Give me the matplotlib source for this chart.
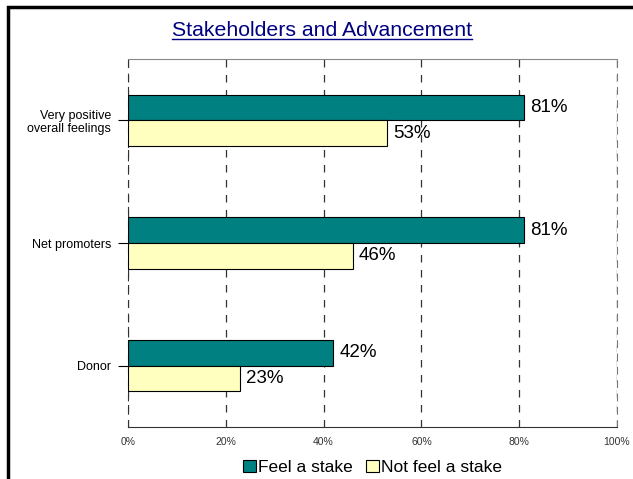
import matplotlib
matplotlib.use("Agg")
import matplotlib.pyplot as plt
from matplotlib.lines import Line2D
import numpy as np

plt.rcParams['font.family'] = ['Liberation Sans', 'DejaVu Sans']

categories = ["Very positive\noverall feelings", "Net promoters", "Donor"]
feel_stake = [81, 81, 42]
not_feel_stake = [53, 46, 23]
series_names = ["Feel a stake", "Not feel a stake"]
x_ticks = [0, 20, 40, 60, 80, 100]

fig = plt.figure(figsize=(6.33, 4.79), dpi=100)
ax = fig.add_axes([0.2022, 0.1086, 0.7725, 0.768])

y = np.arange(len(categories))
h = 0.21
ax.barh(y - h / 2, feel_stake, height=h, color="#008080", edgecolor="black",
        linewidth=0.8, label=series_names[0], zorder=3)
ax.barh(y + h / 2, not_feel_stake, height=h, color="#FFFFC0", edgecolor="black",
        linewidth=0.8, label=series_names[1], zorder=3)

for yi, v in zip(y, feel_stake):
    ax.text(v + 1.2, yi - h / 2, f"{v}%", va="center", ha="left", fontsize=13.5, zorder=4)
for yi, v in zip(y, not_feel_stake):
    ax.text(v + 1.2, yi + h / 2, f"{v}%", va="center", ha="left", fontsize=13.5, zorder=4)

ax.set_xlim(0, 100)
ax.set_ylim(2.5, -0.5)
ax.set_xticks(x_ticks)
ax.set_xticklabels([f"{t}%" for t in x_ticks], fontsize=7.5, color="#333333")
ax.tick_params(axis="x", length=0, pad=7)
ax.set_yticks(y)
ax.set_yticklabels(categories, fontsize=9, linespacing=1.1)
ax.tick_params(axis="y", length=7, width=0.8, pad=5)
for t in ax.get_yticklabels():
    t.set_horizontalalignment("right")
    t.set_multialignment("right")

ax.grid(axis="x", color="#333333", linestyle=(0, (6, 6)), linewidth=0.9, zorder=0)
ax.spines["top"].set_color("#888888")
ax.spines["right"].set_color("#777777")
ax.spines["right"].set_linestyle((0, (6, 6)))
ax.spines["left"].set_color("#333333")
ax.spines["left"].set_linestyle((0, (6, 6)))
ax.spines["bottom"].set_color("#333333")

leg = ax.legend(loc="upper center", bbox_to_anchor=(0.5, -0.07), ncol=2, frameon=False,
                fontsize=12.5, handlelength=0.75, handleheight=0.75, handletextpad=0.1,
                columnspacing=0.8, borderaxespad=0)

title = fig.text(0.508, 0.937, "Stakeholders and Advancement", ha="center", va="center",
                 fontsize=15.3, color="#000080")

# underline under the title
fig.canvas.draw()
bb = title.get_window_extent().transformed(fig.transFigure.inverted())
fig.add_artist(Line2D([bb.x0, bb.x1], [bb.y0 + 0.002, bb.y0 + 0.002],
                      transform=fig.transFigure, color="#000080", linewidth=1.0))

# thick frame on the left and top edges
fig.add_artist(Line2D([0.012, 0.012, 1.0], [0.0, 0.985, 0.985],
                      transform=fig.transFigure, color="black", linewidth=2.5,
                      solid_joinstyle="miter"))

fig.savefig("out.png", dpi=100)
